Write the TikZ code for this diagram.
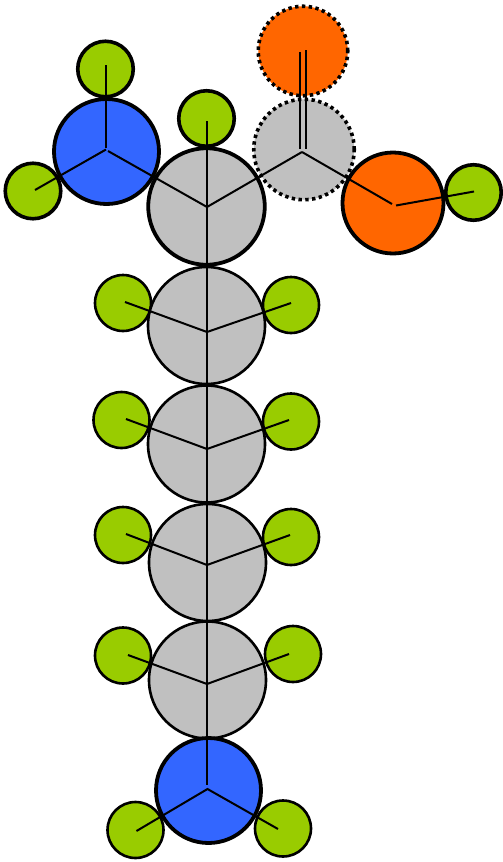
\documentclass[tikz,border=0pt]{standalone}
\definecolor{gr}{RGB}{153,204,0}
\definecolor{bl}{RGB}{51,102,255}
\definecolor{og}{RGB}{255,102,0}
\definecolor{gy}{RGB}{192,192,192}
\tikzset{
 x=1pt,y=-1pt,
 atom/.style={circle,draw=black,inner sep=0pt,outer sep=0pt,line width=2.6pt},
 hyd/.style={atom,fill=gr,minimum size=56pt},
 hydT/.style={hyd,line width=3.6pt,minimum size=55.5pt},
 carb/.style={atom,fill=gy,minimum size=117pt},
 carbT/.style={carb,line width=3.8pt,minimum size=116.5pt},
 nit/.style={atom,fill=bl,line width=3.8pt,minimum size=105pt},
 oxy/.style={atom,fill=og,line width=3.8pt,minimum size=101pt},
 dotc/.style={atom,line width=3.6pt,dash pattern=on 3.4pt off 3.4pt},
 bond/.style={draw=black,line width=2pt},
}
\begin{document}
\begin{tikzpicture}
\useasboundingbox (0,0) rectangle (503,862);
% hydrogens
\node[hydT] (h1) at (105.5,69) {};
\node[hydT] (h2) at (33,191) {};
\node[hydT] (h3) at (206.5,118.5) {};
\node[hydT] (h4) at (473.5,192.5) {};
\node[hyd] (h5) at (123,303) {};
\node[hyd] (h6) at (291,305) {};
\node[hyd] (h7) at (121.5,420) {};
\node[hyd] (h8) at (291,421.5) {};
\node[hyd] (h9) at (123,535) {};
\node[hyd] (h10) at (291,537) {};
\node[hyd] (h11) at (123,655.5) {};
\node[hyd] (h12) at (293,654) {};
\node[hyd] (h13) at (135.5,830) {};
\node[hyd] (h14) at (283,828.5) {};
% heavy atoms
\node[dotc,fill=og,minimum size=89.5pt] (o1) at (303,51) {};
\node[dotc,fill=gy,minimum size=100.5pt] (c0) at (304,149.5) {};
\node[oxy] (o2) at (393,203) {};
\node[nit] (n1) at (106.5,151.5) {};
\node[carb] (c2) at (206.5,325.5) {};
\node[carbT] (c1) at (206.5,206.5) {};
\node[carb] (c3) at (206.5,444) {};
\node[carb] (c4) at (207.5,562.5) {};
\node[carb] (c5) at (207.5,680) {};
\node[nit] (n2) at (208.5,790.5) {};
% bond ends
\coordinate (a1) at (106,65);
\coordinate (j1) at (106,148);
\coordinate (j1b) at (106,149.5);
\coordinate (j1c) at (108,151);
\coordinate (a2) at (35,190);
\coordinate (t) at (207,121);
\coordinate (b) at (207,785);
\coordinate (j2) at (207,207);
\coordinate (j3) at (302,152);
\coordinate (d1a) at (300,52);
\coordinate (d1b) at (300,149);
\coordinate (d2a) at (306,50);
\coordinate (d2b) at (306,149);
\coordinate (j4) at (392,204);
\coordinate (j4b) at (396,205.5);
\coordinate (a4) at (474,191.5);
\coordinate (j5) at (207,332);
\coordinate (l5) at (125,302);
\coordinate (r5) at (291,303);
\coordinate (j6) at (207,449);
\coordinate (l6) at (126,419);
\coordinate (r6) at (289,420);
\coordinate (j7) at (207,565);
\coordinate (l7) at (126,534);
\coordinate (r7) at (290,535);
\coordinate (j8) at (207,684);
\coordinate (l8) at (128,655);
\coordinate (r8) at (289,654);
\coordinate (j9) at (207.5,789);
\coordinate (l9) at (136.5,831);
\coordinate (r9) at (278,829);
% bonds
\draw[bond] (a1) -- (j1);
\draw[bond] (a2) -- (j1b);
\draw[bond] (j1c) -- (j2);
\draw[bond] (t) -- (b);
\draw[bond] (j2) -- (j3);
\draw[bond] (d1a) -- (d1b);
\draw[bond] (d2a) -- (d2b);
\draw[bond] (j3) -- (j4);
\draw[bond] (j4b) -- (a4);
\draw[bond] (l5) -- (j5) -- (r5);
\draw[bond] (l6) -- (j6) -- (r6);
\draw[bond] (l7) -- (j7) -- (r7);
\draw[bond] (l8) -- (j8) -- (r8);
\draw[bond] (l9) -- (j9) -- (r9);
\end{tikzpicture}
\end{document}
